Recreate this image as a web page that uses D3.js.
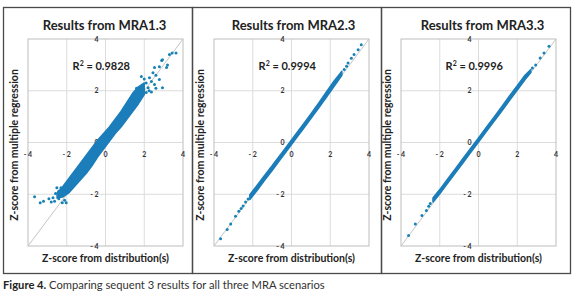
<!DOCTYPE html>
<html>
<head>
<meta charset="utf-8">
<script src="https://cdn.jsdelivr.net/npm/d3@7"></script>
<style>
  body { margin: 0; background: #fff; }
  text { font-family: Lato, "Noto Sans", sans-serif; }
</style>
</head>
<body>
<div id="chart"></div>
<script>
// Three panels, z-score from distribution vs z-score from multiple regression
var titles = ["Results from MRA1.3", "Results from MRA2.3", "Results from MRA3.3"];
var r2Labels = ["0.9828", "0.9994", "0.9996"];
var ticks = [-4, -2, 0, 2, 4];
var tickLabels = ["- 4", "- 2", "0", "2", "4"];

// dense part of each cloud, drawn as a band (x, lower y, upper y)
var bandX1  = [-2.5, -2.2, -1.9, -1.6, -1.3, -1.0, -0.7, -0.4, -0.1, 0.2, 0.5, 0.8, 1.1, 1.4, 1.7, 2.0];
var bandLo1 = [-2.15, -2.1, -1.95, -1.7, -1.45, -1.2, -0.9, -0.55, -0.25, 0.05, 0.35, 0.6, 0.9, 1.2, 1.5, 1.85];
var bandHi1 = [-1.95, -1.7, -1.4, -1.1, -0.8, -0.5, -0.2, 0.1, 0.35, 0.6, 0.9, 1.2, 1.55, 1.9, 2.15, 2.3];

var bandX2  = [-2.15, -1.8, -1.4, -1.0, -0.6, -0.2, 0.2, 0.6, 1.0, 1.4, 1.8, 2.2, 2.6];
var bandLo2 = [-2.2, -1.88, -1.47, -1.08, -0.68, -0.28, 0.12, 0.52, 0.93, 1.33, 1.75, 2.17, 2.6];
var bandHi2 = [-2.02, -1.68, -1.28, -0.9, -0.5, -0.1, 0.3, 0.7, 1.1, 1.52, 1.95, 2.38, 2.75];

var bandX3  = [-2.35, -2.0, -1.6, -1.2, -0.8, -0.4, 0.0, 0.4, 0.8, 1.2, 1.6, 2.0, 2.4, 2.7];
var bandLo3 = [-2.3, -1.98, -1.58, -1.18, -0.78, -0.38, 0.02, 0.42, 0.82, 1.22, 1.63, 2.03, 2.43, 2.7];
var bandHi3 = [-2.14, -1.82, -1.42, -1.02, -0.62, -0.22, 0.18, 0.58, 0.98, 1.38, 1.8, 2.2, 2.6, 2.82];

// scattered points outside the dense part
var dotsX1 = [1.75, 1.9, 2.1, 2.2, 2.37, 2.1, 2.37, 1.85, 2.27, 2.53, 2.6, 2.53, 2.78, 2.94, 3.2, 3.15, 3.3, 3.44, 3.64, 2.9, 2.78, 2.94, 2.6, 1.4, 2.0, 2.45, 1.6, 2.25,
              -3.66, -3.37, -3.2, -2.92, -2.71, -2.63, -2.51, -2.41, -2.58, -2.23, -2.11, -2.23, -2.03, -2.41, -2.8, -2.3];
var dotsY1 = [1.97, 2.12, 2.3, 2.12, 2.36, 1.93, 1.95, 2.55, 2.5, 2.24, 2.6, 2.9, 2.93, 3.2, 3.0, 2.9, 3.4, 3.46, 3.46, 3.17, 2.43, 2.12, 2.1, 1.78, 2.45, 2.7, 2.1, 2.0,
              -2.1, -2.33, -2.27, -2.17, -2.14, -2.27, -1.75, -1.88, -1.97, -2.07, -2.23, -2.33, -2.33, -2.17, -2.3, -1.75];

var dotsX2 = [-3.66, -3.32, -3.14, -2.89, -2.72, -2.6, -2.5, -2.37, -2.24, 2.72, 2.84, 2.92, 3.09, 3.23, 3.44, 3.6];
var dotsY2 = [-3.72, -3.36, -3.15, -2.85, -2.66, -2.55, -2.45, -2.3, -2.18, 2.82, 2.95, 3.07, 3.26, 3.4, 3.58, 3.78];

var dotsX3 = [-3.61, -3.26, -2.92, -2.69, -2.57, -2.49, 2.78, 2.95, 3.18, 3.38, 3.64];
var dotsY3 = [-3.59, -3.15, -2.82, -2.63, -2.46, -2.36, 2.88, 3.0, 3.27, 3.46, 3.72];

var bands = [[bandX1, bandLo1, bandHi1], [bandX2, bandLo2, bandHi2], [bandX3, bandLo3, bandHi3]];
var dots = [[dotsX1, dotsY1], [dotsX2, dotsY2], [dotsX3, dotsY3]];

var frameX = [3, 192, 381, 570];
var plotLeft = [28, 214, 401];
var plotW = 155;
var plotTop = 39, plotBottom = 246;
var blue = "#1b7db9";

var svg = d3.select("#chart").append("svg")
    .attr("width", 580)
    .attr("height", 300)
    .style("background", "#fff");

var y = d3.scaleLinear().domain([-4, 4]).range([plotBottom, plotTop]);

titles.forEach(function(title, i) {
  var x = d3.scaleLinear().domain([-4, 4]).range([plotLeft[i], plotLeft[i] + plotW]);
  var cx = (frameX[i] + frameX[i + 1]) / 2 + 7;
  var g = svg.append("g");

  // panel frame
  g.append("rect")
      .attr("x", frameX[i] + 0.5)
      .attr("y", 7.5)
      .attr("width", frameX[i + 1] - frameX[i])
      .attr("height", 266)
      .style("fill", "none")
      .style("stroke", "#4a4a4a")
      .style("stroke-width", 1.3);

  // grid
  g.selectAll("line.vg").data([-2, 0, 2]).enter()
    .append("line")
      .attr("x1", function(d) { return x(d); })
      .attr("x2", function(d) { return x(d); })
      .attr("y1", plotTop)
      .attr("y2", plotBottom)
      .style("stroke", "#dcdcdc");
  g.selectAll("line.hg").data([-2, 0, 2]).enter()
    .append("line")
      .attr("x1", plotLeft[i])
      .attr("x2", plotLeft[i] + plotW)
      .attr("y1", function(d) { return y(d); })
      .attr("y2", function(d) { return y(d); })
      .style("stroke", "#dcdcdc");
  g.append("rect")
      .attr("x", plotLeft[i])
      .attr("y", plotTop)
      .attr("width", plotW)
      .attr("height", plotBottom - plotTop)
      .style("fill", "none")
      .style("stroke", "#bdbdbd");

  // 1:1 line
  g.append("line")
      .attr("x1", x(-4)).attr("y1", y(-4))
      .attr("x2", x(4)).attr("y2", y(4))
      .style("stroke", "#c4c4c4");

  // tick labels on the zero lines
  g.selectAll("text.xt").data(ticks).enter()
    .append("text")
      .attr("x", function(d) { return x(d); })
      .attr("y", y(0) + 14)
      .attr("text-anchor", "middle")
      .style("font-size", "7px")
      .style("font-weight", "bold")
      .style("fill", "#333")
      .text(function(d, j) { return tickLabels[j]; });
  g.selectAll("text.yt").data(ticks).enter()
    .append("text")
      .attr("x", x(0) - 7)
      .attr("y", function(d) { return y(d) + 2.5; })
      .attr("text-anchor", "end")
      .style("font-size", "7px")
      .style("font-weight", "bold")
      .style("fill", "#333")
      .text(function(d, j) { return tickLabels[j]; });

  // dense band
  var b = bands[i];
  var area = d3.area()
      .x(function(d) { return x(d); })
      .y0(function(d, j) { return y(b[1][j]); })
      .y1(function(d, j) { return y(b[2][j]); })
      .curve(d3.curveLinear);
  g.append("path")
      .datum(b[0])
      .attr("d", area)
      .style("fill", blue)
      .style("stroke", blue)
      .style("stroke-width", 1.5)
      .style("stroke-linejoin", "round");

  // scattered points
  var p = dots[i];
  g.selectAll("circle").data(p[0]).enter()
    .append("circle")
      .attr("cx", function(d) { return x(d); })
      .attr("cy", function(d, j) { return y(p[1][j]); })
      .attr("r", 1.5)
      .style("fill", "#1682b5");

  // titles
  g.append("text")
      .attr("x", cx)
      .attr("y", 30)
      .attr("text-anchor", "middle")
      .style("font-size", "13px")
      .style("font-weight", "bold")
      .style("fill", "#222")
      .text(title);

  var r2 = g.append("text")
      .attr("x", x(-1.7))
      .attr("y", 70)
      .style("font-size", "11px")
      .style("font-weight", "bold")
      .style("fill", "#222");
  r2.append("tspan").text("R");
  r2.append("tspan").attr("dy", -4).style("font-size", "7px").text("2");
  r2.append("tspan").attr("dy", 4).text(" = " + r2Labels[i]);

  g.append("text")
      .attr("x", (plotLeft[i] + plotLeft[i] + plotW) / 2)
      .attr("y", 262)
      .attr("text-anchor", "middle")
      .style("font-size", "10.5px")
      .style("font-weight", "bold")
      .style("fill", "#222")
      .text("Z-score from distribution(s)");

  g.append("text")
      .attr("transform", "translate(" + (plotLeft[i] - 10) + "," + 145 + ") rotate(-90)")
      .attr("text-anchor", "middle")
      .style("font-size", "10.5px")
      .style("font-weight", "bold")
      .style("fill", "#222")
      .text("Z-score from multiple regression");
});

var cap = svg.append("text")
    .attr("x", 3)
    .attr("y", 289)
    .style("font-size", "11.2px")
    .style("fill", "#333");
cap.append("tspan").style("font-weight", "bold").style("fill", "#222").text("Figure 4.");
cap.append("tspan").text(" Comparing sequent 3 results for all three MRA scenarios");
</script>
</body>
</html>
